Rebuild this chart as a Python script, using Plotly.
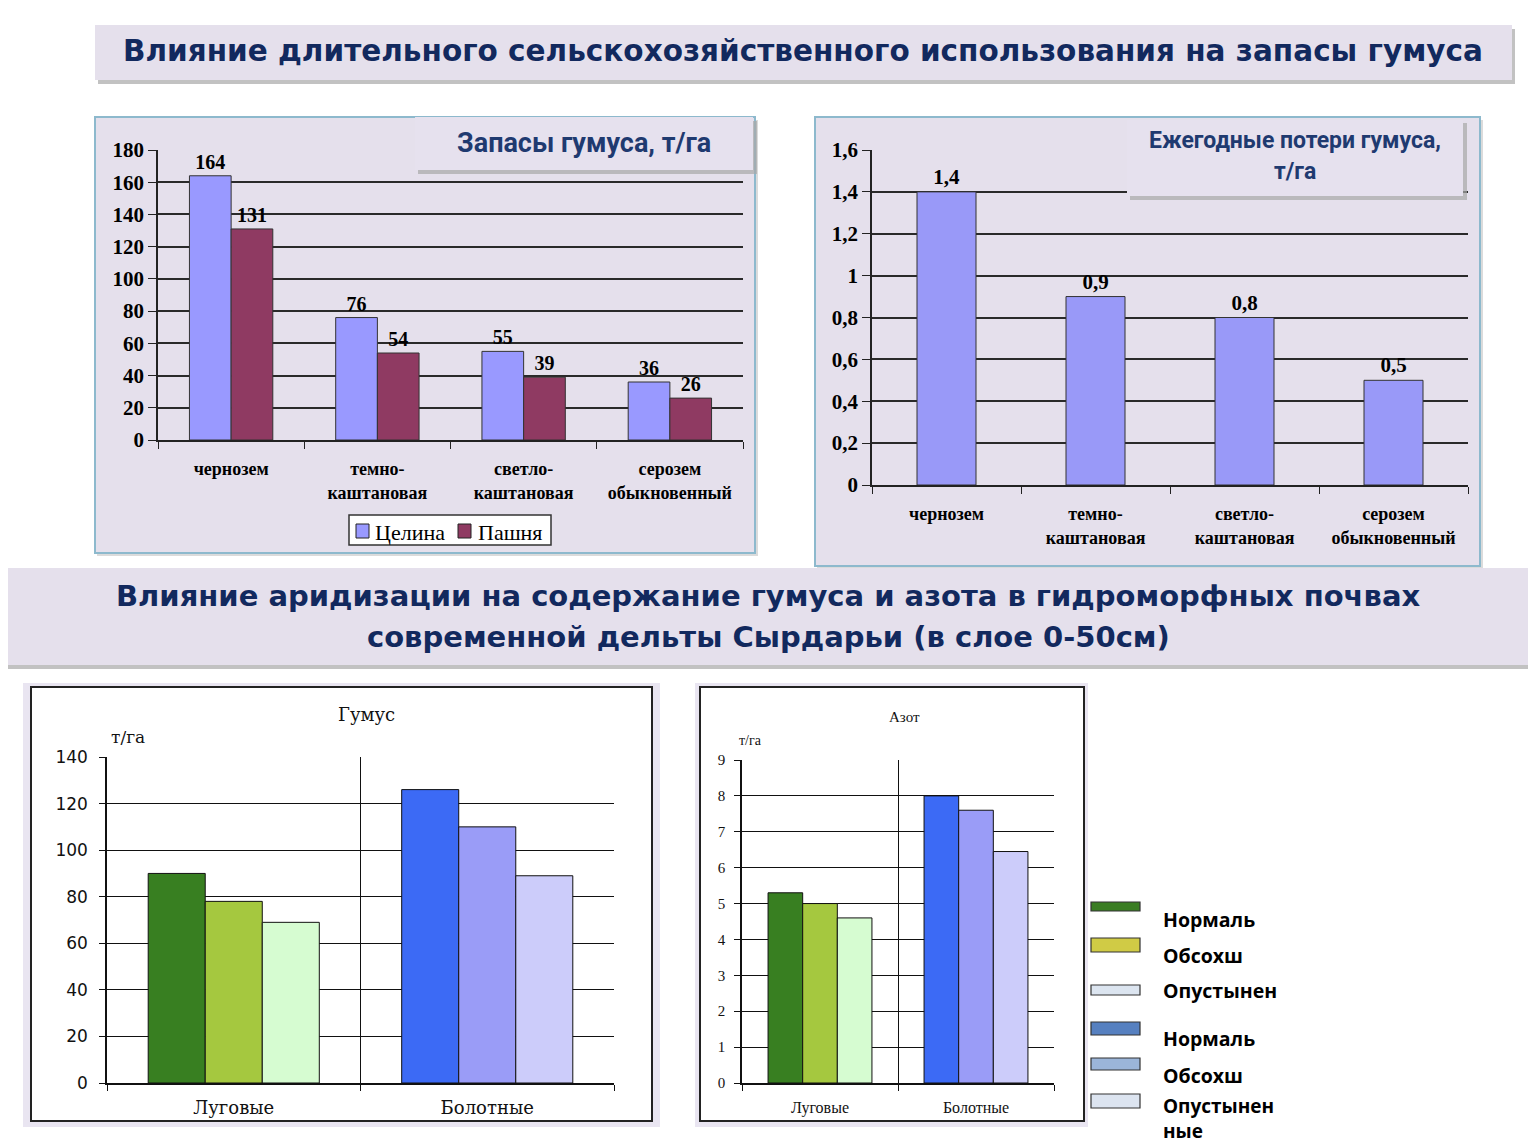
import plotly.graph_objects as go

W, H = 1536, 1143
OFF = 8  # page body margin compensation

# ---------------- data ----------------
soils = ["чернозем", "темно-<br>каштановая", "светло-<br>каштановая", "серозем<br>обыкновенный"]
virgin = [164, 76, 55, 36]        # Целина
arable = [131, 54, 39, 26]        # Пашня
annual_loss = [1.4, 0.9, 0.8, 0.5]

groups = ["Луговые", "Болотные"]
humus_normal = [90, 126]
humus_dried = [78, 110]
humus_desert = [69, 89]
nitro_normal = [5.3, 8.0]
nitro_dried = [5.0, 7.6]
nitro_desert = [4.6, 6.45]

legend_labels = ["Нормаль", "Обсохш", "Опустынен", "Нормаль", "Обсохш", "Опустынен<br>ные"]

# ---------------- helpers ----------------
def X(px):
    return (px - OFF) / W

def Y(py):
    return 1 - (py - OFF) / H

shapes = []
annotations = []

def rect(x0, y0, x1, y1, fill, line=None, lw=1, layer="below", opacity=1):
    shapes.append(dict(type="rect", xref="paper", yref="paper",
                       x0=X(x0), x1=X(x1), y0=Y(y1), y1=Y(y0),
                       fillcolor=fill, opacity=opacity,
                       line=dict(color=line if line else fill, width=lw if line else 0),
                       layer=layer))

def text(px, py, s, size, color="black", family="Liberation Sans", weight="normal",
         xanchor="center", yanchor="middle", align="center"):
    annotations.append(dict(xref="paper", yref="paper", x=X(px), y=Y(py), text=s,
                            showarrow=False, xanchor=xanchor, yanchor=yanchor, align=align,
                            font=dict(size=size, color=color, family=family, weight=weight)))

LAV = "#E5E0EC"
NAVY = "#12295E"
TITLE_BLUE = "#1F3A70"

# ---------------- backgrounds ----------------
rect(98, 29, 1515, 84, "#9A9A9A", opacity=0.6)
rect(95, 25, 1512, 80, LAV)
rect(97, 120, 758, 556, "#B8B8B8", opacity=0.5)
rect(95, 117, 755, 553, LAV, line="#8DB9CD", lw=2)
rect(817, 120, 1483, 569, "#B8B8B8", opacity=0.5)
rect(815, 117, 1480, 566, LAV, line="#8DB9CD", lw=2)
rect(-10, 572, 1546, 669, "#9A9A9A", opacity=0.6)
rect(-10, 568, 1546, 665, LAV)
rect(23, 683, 660, 1127, "#E9E5F1")
rect(31, 687, 652, 1121, "white", line="#222222", lw=2)
rect(695, 683, 1088, 1127, "#E9E5F1")
rect(700, 687, 1084, 1121, "white", line="#222222", lw=2)

rect(418, 121, 757, 174, "#A8A8A8", layer="above", opacity=0.7)
rect(415, 117, 753, 170, "#E6E1EE", layer="above")
rect(1130, 123, 1467, 200, "#A8A8A8", layer="above", opacity=0.7)
rect(1127, 120, 1463, 196, "#E6E1EE", layer="above")

# ---------------- titles ----------------
text(803, 51, "Влияние длительного сельскохозяйственного использования на запасы гумуса",
     29.5, NAVY, "DejaVu Sans", "bold")
text(768, 596, "Влияние аридизации на содержание гумуса и азота в гидроморфных почвах",
     29, NAVY, "DejaVu Sans", "bold")
text(768, 637, "современной дельты Сырдарьи (в слое 0-50см)",
     29, NAVY, "DejaVu Sans", "bold")
text(584, 143, "Запасы гумуса, т/га", 27, TITLE_BLUE, "Roboto", "bold")
text(1295, 141, "Ежегодные потери гумуса,", 23, TITLE_BLUE, "Roboto", "bold")
text(1295, 171, "т/га", 23, TITLE_BLUE, "Roboto", "bold")

text(366, 714, "Гумус", 18, "#111", "DejaVu Serif")
text(128, 737, "т/га", 17, "#111", "DejaVu Serif")
text(904, 717, "Азот", 15, "#111", "Liberation Serif")
text(750, 740, "т/га", 14, "#111", "Liberation Serif")

# top-left legend
rect(349, 515, 551, 545, "white", line="#333333", lw=1.5, layer="above")
rect(356, 524, 369, 538, "#9999FF", line="#222", lw=1, layer="above")
text(373, 532, "Целина", 22, "black", "Liberation Serif", xanchor="left")
rect(458, 524, 471, 538, "#8F3A62", line="#222", lw=1, layer="above")
text(476, 532, "Пашня", 22, "black", "Liberation Serif", xanchor="left")

# right legend
sw = [(902, 911, "#3A7D23"), (938, 952, "#D0CB45"), (985, 995, "#DCE5F0"),
      (1022, 1035, "#5680C0"), (1058, 1070, "#9BB5D9"), (1094, 1108, "#DCE4F0")]
lab_y = [919, 955, 990, 1038, 1075, 1111]
for (y0, y1, c), ly, lab in zip(sw, lab_y, legend_labels):
    rect(1091, y0, 1140, y1, c, line="#333333", lw=1.2, layer="above")
    if "<br>" in lab:
        text(1161, 1146, lab, 19, "black", "Open Sans", "bold",
             xanchor="left", yanchor="bottom", align="left")
    else:
        text(1161, ly, lab, 19.5, "black", "Open Sans", "bold", xanchor="left")

# ---------------- traces ----------------
fig = go.Figure()

BAR_LINE = dict(color="#333333", width=1)
w1 = 0.285
lblfont = dict(family="Liberation Serif", size=20, color="black", weight="bold")
fig.add_trace(go.Bar(x=soils, y=virgin, name="Целина", marker=dict(color="#9999FF", line=BAR_LINE),
                     width=w1, offset=-w1, text=[str(v) for v in virgin], textposition="outside",
                     textfont=lblfont, cliponaxis=False, xaxis="x", yaxis="y"))
fig.add_trace(go.Bar(x=soils, y=arable, name="Пашня", marker=dict(color="#8F3A62", line=BAR_LINE),
                     width=w1, offset=0, text=[str(v) for v in arable], textposition="outside",
                     textfont=lblfont, cliponaxis=False, xaxis="x", yaxis="y"))

w2 = 0.396
fig.add_trace(go.Bar(x=soils, y=annual_loss, marker=dict(color="#9999F8", line=BAR_LINE),
                     width=w2, offset=-w2 / 2,
                     text=[str(v).replace(".", ",") for v in annual_loss], textposition="outside",
                     textfont=dict(family="Liberation Serif", size=21, color="black", weight="bold"),
                     cliponaxis=False, xaxis="x2", yaxis="y2"))

BLK = dict(color="#111111", width=1)
w3 = 0.225
series_h = [(humus_normal, ["#387F21", "#3C6AF5"]),
            (humus_dried, ["#A5C83F", "#9A9CF7"]),
            (humus_desert, ["#D6FCD1", "#CCCCFA"])]
for i, (vals, cols) in enumerate(series_h):
    fig.add_trace(go.Bar(x=groups, y=vals, marker=dict(color=cols, line=BLK),
                         width=w3, offset=-1.5 * w3 + i * w3, xaxis="x3", yaxis="y3"))
w4 = 0.222
series_n = [(nitro_normal, ["#387F21", "#3C6AF5"]),
            (nitro_dried, ["#A5C83F", "#9A9CF7"]),
            (nitro_desert, ["#D6FCD1", "#CCCCFA"])]
for i, (vals, cols) in enumerate(series_n):
    fig.add_trace(go.Bar(x=groups, y=vals, marker=dict(color=cols, line=BLK),
                         width=w4, offset=-1.5 * w4 + i * w4, xaxis="x4", yaxis="y4"))

# ---------------- axes ----------------
def xdom(a, b):
    return [X(a), X(b)]

def ydom(top, bottom):
    return [Y(bottom), Y(top)]

top_x = dict(type="category", tickson="boundaries", ticks="outside", ticklen=7, tickcolor="#222",
             showline=True, linecolor="#222", linewidth=1.5, showgrid=False,
             tickfont=dict(family="Liberation Serif", size=18, color="black", weight="bold"),
             ticklabelstandoff=12, fixedrange=True)
top_y = dict(showline=True, linecolor="#222", linewidth=1.5, ticks="outside", ticklen=8,
             tickcolor="#222", showgrid=True, gridcolor="#2A2A2A", gridwidth=1.5, zeroline=False,
             tickfont=dict(family="Liberation Serif", size=21, color="black", weight="bold"),
             fixedrange=True)

bot_x = dict(type="category", tickson="boundaries", ticks="outside", ticklen=6, tickcolor="#111",
             showline=True, linecolor="#111", linewidth=1.5, showgrid=True, gridcolor="#111",
             gridwidth=1, fixedrange=True)
bot_y = dict(showline=True, linecolor="#111", linewidth=1.5, ticks="outside", ticklen=6,
             tickcolor="#111", showgrid=True, gridcolor="#111", gridwidth=1, zeroline=False,
             fixedrange=True)

fig.update_layout(
    width=W, height=H,
    margin=dict(l=0, r=0, t=0, b=0, autoexpand=False),
    paper_bgcolor="white", plot_bgcolor="rgba(0,0,0,0)",
    separators=", ",
    barmode="overlay",
    showlegend=False,
    shapes=shapes, annotations=annotations,
    xaxis=dict(**top_x, domain=xdom(158, 743), anchor="y"),
    yaxis=dict(**top_y, domain=ydom(150, 440), range=[0, 180], dtick=20, anchor="x"),
    xaxis2=dict(**top_x, domain=xdom(872, 1468), anchor="y2"),
    yaxis2=dict(**top_y, domain=ydom(150, 485), range=[0, 1.6], dtick=0.2, anchor="x2"),
    xaxis3=dict(**bot_x, domain=xdom(107, 614), anchor="y3",
                tickfont=dict(family="DejaVu Serif", size=18, color="#111"), ticklabelstandoff=8),
    yaxis3=dict(**bot_y, domain=ydom(757, 1083), range=[0, 140], dtick=20, anchor="x3",
                tickfont=dict(family="DejaVu Sans", size=17, color="#111"), ticklabelstandoff=8),
    xaxis4=dict(**bot_x, domain=xdom(742, 1054), anchor="y4",
                tickfont=dict(family="Liberation Serif", size=16, color="#111"), ticklabelstandoff=9),
    yaxis4=dict(**bot_y, domain=ydom(760, 1083), range=[0, 9], dtick=1, anchor="x4",
                tickfont=dict(family="Liberation Serif", size=15, color="#111"), ticklabelstandoff=6),
)

fig.write_html("out.html")
